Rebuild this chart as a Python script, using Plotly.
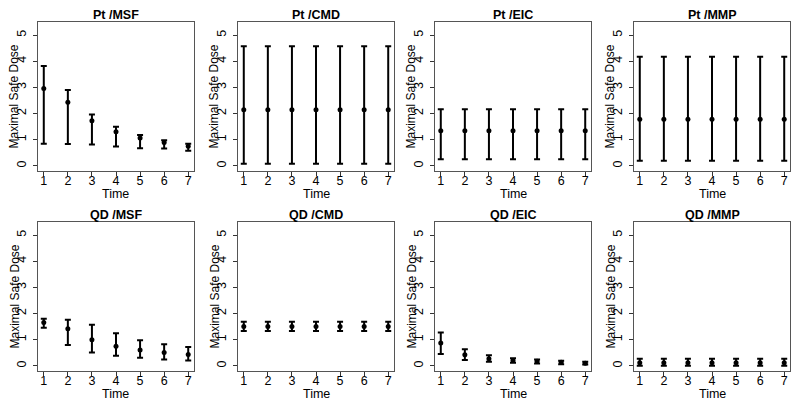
import plotly.graph_objects as go

time = [1, 2, 3, 4, 5, 6, 7]
panel_titles = ["Pt /MSF", "Pt /CMD", "Pt /EIC", "Pt /MMP",
                "QD /MSF", "QD /CMD", "QD /EIC", "QD /MMP"]

pt_msf_mean = [2.96, 2.43, 1.72, 1.30, 1.06, 0.89, 0.75]
pt_msf_low = [0.84, 0.83, 0.81, 0.74, 0.67, 0.66, 0.57]
pt_msf_high = [3.82, 2.90, 1.96, 1.49, 1.18, 0.98, 0.84]

pt_cmd_mean = [2.14] * 7
pt_cmd_low = [0.08] * 7
pt_cmd_high = [4.57] * 7

pt_eic_mean = [1.34] * 7
pt_eic_low = [0.25] * 7
pt_eic_high = [2.16] * 7

pt_mmp_mean = [1.78] * 7
pt_mmp_low = [0.19] * 7
pt_mmp_high = [4.17] * 7

qd_msf_mean = [1.66, 1.42, 1.00, 0.75, 0.60, 0.51, 0.43]
qd_msf_low = [1.45, 0.79, 0.51, 0.38, 0.31, 0.24, 0.20]
qd_msf_high = [1.80, 1.76, 1.57, 1.24, 0.98, 0.82, 0.72]

qd_cmd_mean = [1.50] * 7
qd_cmd_low = [1.33] * 7
qd_cmd_high = [1.68] * 7

qd_eic_mean = [0.87, 0.42, 0.27, 0.20, 0.17, 0.13, 0.10]
qd_eic_low = [0.45, 0.22, 0.15, 0.12, 0.09, 0.06, 0.05]
qd_eic_high = [1.27, 0.63, 0.40, 0.29, 0.24, 0.19, 0.15]

qd_mmp_mean = [0.12] * 7
qd_mmp_low = [0.0] * 7
qd_mmp_high = [0.27] * 7

series = [
    (pt_msf_mean, pt_msf_low, pt_msf_high),
    (pt_cmd_mean, pt_cmd_low, pt_cmd_high),
    (pt_eic_mean, pt_eic_low, pt_eic_high),
    (pt_mmp_mean, pt_mmp_low, pt_mmp_high),
    (qd_msf_mean, qd_msf_low, qd_msf_high),
    (qd_cmd_mean, qd_cmd_low, qd_cmd_high),
    (qd_eic_mean, qd_eic_low, qd_eic_high),
    (qd_mmp_mean, qd_mmp_low, qd_mmp_high),
]

W, H = 800, 406
x_px = [(38, 194), (238, 394), (435, 591), (634, 790)]
y_px = [(22, 171), (222, 371)]

FONT = "Liberation Sans, Arial, sans-serif"
fig = go.Figure()
annotations = []
for i, (m, lo, hi) in enumerate(series):
    r, c = divmod(i, 4)
    k = i + 1
    xa = "x" if k == 1 else f"x{k}"
    ya = "y" if k == 1 else f"y{k}"
    fig.add_trace(go.Scatter(
        x=time, y=m, mode="markers", xaxis=xa, yaxis=ya,
        marker=dict(color="black", size=5),
        error_y=dict(type="data", symmetric=False,
                     array=[h - v for h, v in zip(hi, m)],
                     arrayminus=[v - l for v, l in zip(m, lo)],
                     color="black", thickness=2, width=3),
        showlegend=False))
    x0, x1 = x_px[c]
    y0, y1 = y_px[r]
    xd = [x0 / W, x1 / W]
    yd = [1 - y1 / H, 1 - y0 / H]
    axcommon = dict(showgrid=False, zeroline=False, showline=True, mirror=True,
                    linecolor="#555555", linewidth=1, ticks="outside", ticklen=4,
                    tickcolor="#333333", tickfont=dict(family=FONT, size=12.5, color="black"))
    fig.layout[("xaxis" if k == 1 else f"xaxis{k}")] = dict(
        domain=xd, range=[0.76, 7.24], tickvals=time, anchor=ya,
        ticklabelstandoff=-6, **axcommon)
    fig.layout[("yaxis" if k == 1 else f"yaxis{k}")] = dict(
        domain=yd, range=[-0.2, 5.5], tickvals=[0, 1, 2, 3, 4, 5], tickangle=-90,
        anchor=xa, ticklabelstandoff=2, **axcommon)
    annotations.append(dict(text=f"<b>{panel_titles[i]}</b>", xref="paper", yref="paper",
                            x=(x0 + x1) / 2 / W, y=1 - (y0 - 7) / H, showarrow=False,
                            font=dict(family=FONT, size=12.5, color="black"),
                            xanchor="center", yanchor="middle"))
    annotations.append(dict(text="Time", xref="paper", yref="paper",
                            x=(x0 + x1) / 2 / W, y=1 - (y1 + 23) / H, showarrow=False,
                            font=dict(family=FONT, size=12.5, color="black"),
                            xanchor="center", yanchor="middle"))
    annotations.append(dict(text="Maximal Safe Dose", xref="paper", yref="paper",
                            x=(x0 - 24) / W, y=1 - (y0 + y1) / 2 / H, showarrow=False,
                            textangle=-90,
                            font=dict(family=FONT, size=12, color="black"),
                            xanchor="center", yanchor="middle"))

fig.update_layout(width=W, height=H, margin=dict(l=0, r=0, t=0, b=0),
                  paper_bgcolor="white", plot_bgcolor="white",
                  annotations=annotations)
fig.write_html("out.html", config={"displayModeBar": False})

with open("out.html", "r", encoding="utf-8") as f:
    html = f.read()
html = html.replace("<head>", "<head><style>html,body{margin:0;padding:0;overflow:hidden;}</style>", 1)
with open("out.html", "w", encoding="utf-8") as f:
    f.write(html)
